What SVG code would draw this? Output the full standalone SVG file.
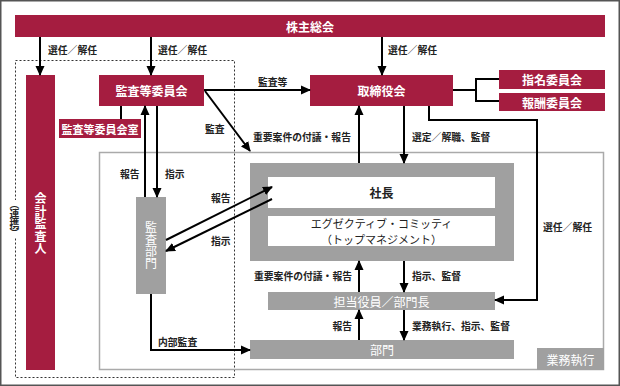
<svg xmlns="http://www.w3.org/2000/svg" width="620" height="386" viewBox="0 0 620 386">
<style>
.red{fill:#a51d40}
.gray{fill:#a0a0a0}
.wt{fill:#fff;font-family:"Noto Sans CJK JP","Noto Sans",sans-serif;font-weight:bold;font-size:12px;text-anchor:middle;dominant-baseline:central}
.bt{fill:#222;font-family:"Noto Sans CJK JP","Noto Sans",sans-serif;font-weight:bold;font-size:12px;text-anchor:middle;dominant-baseline:central}
.lb{fill:#222;font-family:"Noto Sans CJK JP","Noto Sans",sans-serif;font-weight:bold;font-size:9.8px;dominant-baseline:central}
.vt{writing-mode:vertical-rl;text-anchor:middle}
.ln{stroke:#000;stroke-width:2;fill:none}
.ar{stroke:#000;stroke-width:2;fill:none;marker-end:url(#ah)}
</style>
<defs>
<marker id="ah" markerUnits="userSpaceOnUse" markerWidth="10" markerHeight="10" viewBox="0 0 10 10" refX="9" refY="5" orient="auto">
<path d="M0,0.5 L10,5 L0,9.5 z" fill="#000"/>
</marker>
</defs>
<rect x="0" y="0" width="620" height="386" fill="#fff"/>
<rect x="0.75" y="0.75" width="618.5" height="384.5" fill="none" stroke="#555" stroke-width="1.5"/>
<rect x="15.5" y="60.5" width="219" height="317" fill="none" stroke="#333" stroke-width="1" stroke-dasharray="2,2"/>
<rect x="99.5" y="152.5" width="504" height="217" fill="none" stroke="#aaa" stroke-width="1.5"/>

<g id="kabunushi"><rect class="red" x="15" y="15" width="590" height="22"/><text class="wt" x="310" y="26">株主総会</text></g>
<g id="kaikei"><rect class="red" x="26" y="75" width="29" height="295"/><text class="wt vt" x="40.5" y="224" style="letter-spacing:0.5px">会計監査人</text></g>
<g id="renkei"><rect x="9" y="200" width="12" height="38" fill="#fff"/><text class="lb vt" x="14.5" y="219">（連携）</text></g>
<g id="kansatou"><rect class="red" x="99" y="75" width="105" height="31"/><text class="wt" x="151.5" y="90.5">監査等委員会</text></g>
<g id="kansatoushitsu"><rect class="red" x="59" y="119" width="82" height="19"/><text class="wt" x="100" y="128.5" style="font-size:11px">監査等委員会室</text></g>
<g id="torishimari"><rect class="red" x="310" y="75" width="143" height="31"/><text class="wt" x="381.5" y="90.5">取締役会</text></g>
<g id="shimei"><rect class="red" x="499" y="70" width="106" height="19"/><text class="wt" x="552" y="79.5">指名委員会</text></g>
<g id="houshu"><rect class="red" x="499" y="93" width="106" height="18"/><text class="wt" x="552" y="102">報酬委員会</text></g>
<g id="top"><rect class="gray" x="250" y="163" width="264" height="98"/>
<rect x="268" y="177" width="227" height="31" fill="#fff"/><text class="bt" x="381.5" y="192.5">社長</text>
<rect x="268" y="216" width="227" height="30" fill="#fff"/><text class="bt" style="font-size:11px;font-weight:normal"><tspan x="381.5" y="223">エグゼクティブ・コミッティ</tspan><tspan x="381.5" y="239">（トップマネジメント）</tspan></text></g>
<g id="kansabumon"><rect class="gray" x="136" y="197" width="30" height="97"/><text class="wt vt" x="151" y="245.5" style="font-weight:normal">監査部門</text></g>
<g id="tantou"><rect class="gray" x="268" y="292" width="227" height="18"/><text class="wt" x="381.5" y="301" style="font-weight:normal">担当役員／部門長</text></g>
<g id="bumon"><rect class="gray" x="250" y="340" width="264" height="19"/><text class="wt" x="382" y="349.5" style="font-weight:normal">部門</text></g>
<g id="gyoumu"><rect class="gray" x="537" y="348" width="67" height="22"/><text class="wt" x="570.5" y="359" style="font-weight:normal">業務執行</text></g>

<g id="connectors">
<path class="ar" d="M40,37 V75"/>
<path class="ar" d="M151,37 V75"/>
<path class="ar" d="M382,37 V75"/>
<path class="ar" d="M204,90 H310"/>
<path class="ar" d="M205,91 L250,151"/>
<path class="ln" d="M121,106 V119"/>
<path class="ar" d="M145,197 V106"/>
<path class="ar" d="M157,106 V197"/>
<path class="ar" d="M166,240 L272,187"/>
<path class="ar" d="M272,199 L166,251"/>
<path class="ar" d="M359,163 V106"/>
<path class="ar" d="M404,106 V163"/>
<path class="ar" d="M429,106 V120 H537 V300 H495"/>
<path class="ln" d="M453,90 H476 M476,78 V102 M475,79 H499 M475,101 H499"/>
<path class="ar" d="M359,292 V261"/>
<path class="ar" d="M404,261 V292"/>
<path class="ar" d="M359,340 V310"/>
<path class="ar" d="M404,310 V340"/>
<path class="ar" d="M151,294 V350 H250"/>
</g>

<g id="labels">
<text class="lb" x="48" y="50">選任／解任</text>
<text class="lb" x="158" y="50">選任／解任</text>
<text class="lb" x="388" y="50">選任／解任</text>
<text class="lb" x="258" y="82">監査等</text>
<text class="lb" x="205" y="129">監査</text>
<text class="lb" x="253" y="136.5">重要案件の付議・報告</text>
<text class="lb" x="412" y="136.5">選定／解職、監督</text>
<text class="lb" x="120" y="174">報告</text>
<text class="lb" x="165" y="174">指示</text>
<text class="lb" x="211" y="198">報告</text>
<text class="lb" x="211" y="241">指示</text>
<text class="lb" x="543" y="227">選任／解任</text>
<text class="lb" x="352" y="276" style="text-anchor:end">重要案件の付議・報告</text>
<text class="lb" x="412" y="276">指示、監督</text>
<text class="lb" x="352" y="326" style="text-anchor:end">報告</text>
<text class="lb" x="412" y="326">業務執行、指示、監督</text>
<text class="lb" x="158" y="342">内部監査</text>
</g>
</svg>
